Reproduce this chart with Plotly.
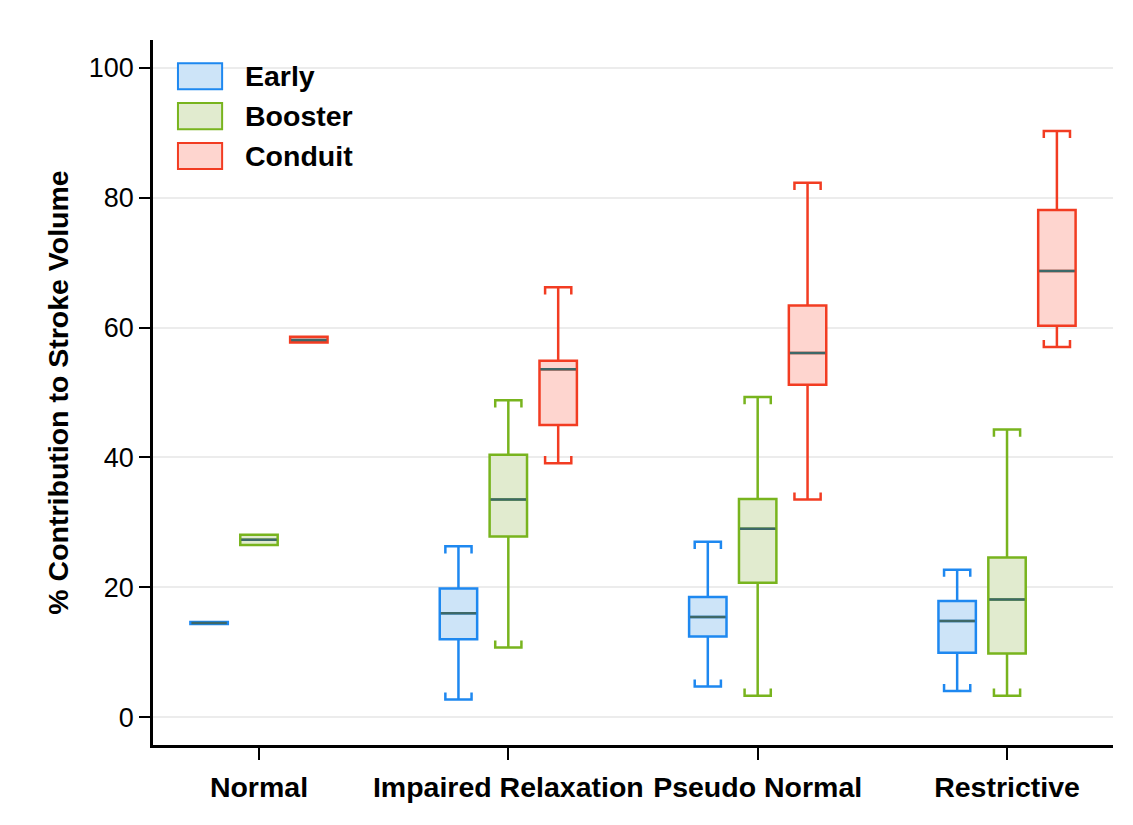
import plotly.graph_objects as go

categories = ["Normal", "Impaired Relaxation", "Pseudo Normal", "Restrictive"]
series_names = ["Early", "Booster", "Conduit"]

early_low = [14.35, 2.7, 4.7, 4.0]
early_q1 = [14.35, 12.0, 12.4, 9.9]
early_med = [14.5, 16.0, 15.4, 14.8]
early_q3 = [14.65, 19.8, 18.5, 17.9]
early_high = [14.65, 26.3, 27.0, 22.7]

booster_low = [26.5, 10.7, 3.3, 3.3]
booster_q1 = [26.5, 27.8, 20.7, 9.8]
booster_med = [27.3, 33.5, 29.0, 18.1]
booster_q3 = [28.1, 40.4, 33.6, 24.6]
booster_high = [28.1, 48.8, 49.3, 44.3]

conduit_low = [57.7, 39.1, 33.5, 57.0]
conduit_q1 = [57.7, 45.0, 51.2, 60.3]
conduit_med = [58.1, 53.6, 56.1, 68.7]
conduit_q3 = [58.6, 54.9, 63.4, 78.1]
conduit_high = [58.6, 66.2, 82.3, 90.3]

y_ticks = [0, 20, 40, 60, 80, 100]

stats = [
    (early_low, early_q1, early_med, early_q3, early_high),
    (booster_low, booster_q1, booster_med, booster_q3, booster_high),
    (conduit_low, conduit_q1, conduit_med, conduit_q3, conduit_high),
]
line_colors = ["#1e88f0", "#78b41e", "#f23c22"]
fill_colors = ["#cde4f8", "#e1ebcf", "#fed5cf"]
median_color = "#3d6868"

offsets = [-0.2, 0.0, 0.2]
box_w = 0.15
cap_w = 0.105
tick_d = 1.1
FONT = "Liberation Sans, Arial, sans-serif"

fig = go.Figure()
shapes = []
for s, (lo, q1, md, q3, hi) in enumerate(stats):
    xs = [i + offsets[s] for i in range(len(categories))]
    fig.add_trace(go.Box(
        x=xs, q1=q1, median=md, q3=q3, lowerfence=lo, upperfence=hi,
        width=box_w, whiskerwidth=0, name=series_names[s],
        line=dict(color=line_colors[s], width=2.5),
        fillcolor=fill_colors[s], showlegend=False, boxpoints=False,
    ))
    for i, xc in enumerate(xs):
        # median
        shapes.append(dict(type="line", xref="x", yref="y",
                           x0=xc - box_w / 2 + 0.004, x1=xc + box_w / 2 - 0.004,
                           y0=md[i], y1=md[i],
                           line=dict(color=median_color, width=2.5)))
        # bracket caps
        if hi[i] > q3[i]:
            x1, x2 = xc - cap_w / 2, xc + cap_w / 2
            shapes.append(dict(type="path", xref="x", yref="y",
                               path=f"M {x1},{hi[i]-tick_d} L {x1},{hi[i]} L {x2},{hi[i]} L {x2},{hi[i]-tick_d}",
                               line=dict(color=line_colors[s], width=2.5)))
        if lo[i] < q1[i]:
            x1, x2 = xc - cap_w / 2, xc + cap_w / 2
            shapes.append(dict(type="path", xref="x", yref="y",
                               path=f"M {x1},{lo[i]+tick_d} L {x1},{lo[i]} L {x2},{lo[i]} L {x2},{lo[i]+tick_d}",
                               line=dict(color=line_colors[s], width=2.5)))

# custom legend (paper coords)
annotations = []
leg_x0, leg_x1 = 0.026, 0.072
leg_top = 0.967
leg_h = 0.037
leg_step = 0.0565
for s, name in enumerate(series_names):
    yt = leg_top - s * leg_step
    shapes.append(dict(type="rect", xref="paper", yref="paper",
                       x0=leg_x0, x1=leg_x1, y0=yt - leg_h, y1=yt,
                       fillcolor=fill_colors[s], line=dict(color=line_colors[s], width=2)))
    annotations.append(dict(xref="paper", yref="paper", x=0.094, y=yt - leg_h / 2,
                            text=name, showarrow=False, xanchor="left", yanchor="middle",
                            font=dict(family=FONT, size=28.5, color="black", weight="bold")))

fig.update_layout(
    width=1133, height=825,
    margin=dict(l=145, r=28, t=32, b=88),
    paper_bgcolor="white", plot_bgcolor="white",
    boxmode="overlay",
    shapes=shapes, annotations=annotations,
    showlegend=False,
)
fig.update_xaxes(
    range=[-0.425, 3.425],
    tickvals=list(range(len(categories))), ticktext=categories,
    showline=True, linecolor="black", linewidth=2.5,
    ticks="outside", ticklen=12, tickwidth=2, tickcolor="black",
    ticklabelstandoff=3,
    showgrid=False, zeroline=False,
    tickfont=dict(family=FONT, size=28.5, color="black", weight="bold"),
)
fig.update_yaxes(
    range=[-4.3, 104.3],
    tickvals=y_ticks,
    showline=True, linecolor="black", linewidth=2.5,
    ticks="outside", ticklen=11, tickwidth=2, tickcolor="black",
    showgrid=True, gridcolor="#ececec", gridwidth=1.5, zeroline=False,
    tickfont=dict(family=FONT, size=27, color="black"),
    title=dict(text="% Contribution to Stroke Volume", standoff=12,
               font=dict(family=FONT, size=28.5, color="black", weight="bold")),
)

fig.write_html("out.html")
